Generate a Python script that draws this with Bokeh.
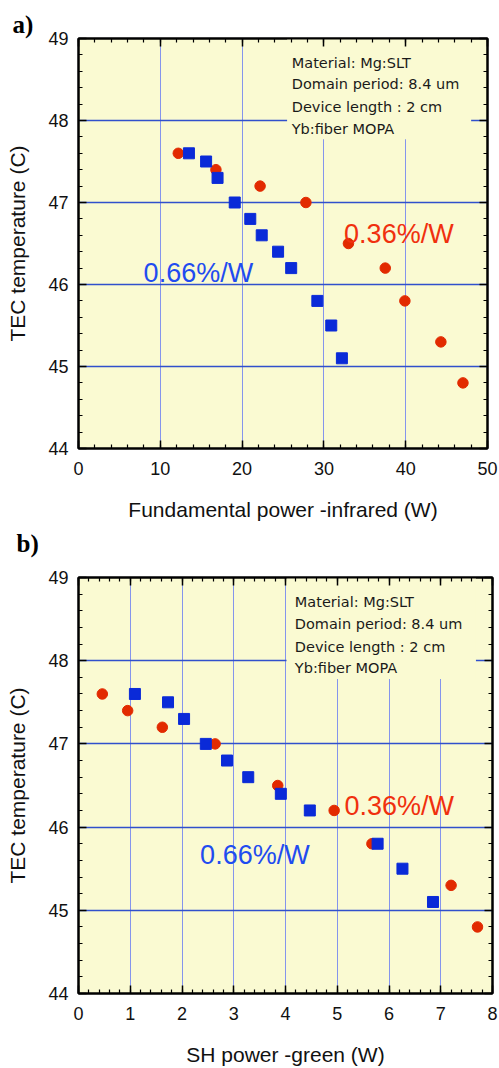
from bokeh.plotting import figure
from bokeh.models import (Range1d, LinearAxis, SingleIntervalTicker, Label,
                          CustomJSTickFormatter, Title)
from bokeh.layouts import column
from bokeh.embed import file_html
from bokeh.resources import INLINE

# ---- data ----
temp_red = [47.6, 47.4, 47.2, 47.0, 46.5, 46.2, 45.8, 45.3, 44.8]
temp_blue = [47.6, 47.5, 47.3, 47.0, 46.8, 46.6, 46.4, 46.2, 45.8, 45.5, 45.1]

fund_red = [12.2, 16.8, 22.2, 27.8, 33.0, 37.5, 39.9, 44.3, 47.0]
fund_blue = [13.5, 15.6, 17.0, 19.1, 21.0, 22.4, 24.4, 26.0, 29.2, 30.9, 32.2]

sh_red = [0.46, 0.95, 1.62, 2.64, 3.85, 4.94, 5.67, 7.20, 7.71]
sh_blue = [1.09, 1.73, 2.04, 2.46, 2.87, 3.28, 3.91, 4.47, 5.78, 6.26, 6.85]

info_lines = ["Material: Mg:SLT", "Domain period: 8.4 um",
              "Device length : 2 cm", "Yb:fiber MOPA"]

BG = "#fafad2"
BLUE_M = "#0a2ad8"
RED_M = "#e22a00"
BLUE_T = "#1f4cf0"
RED_T = "#f0300e"
FONT = "Liberation Sans"


def panel_title(txt, off, valign, stand):
    return Title(text=txt, align="left", offset=off,
                 vertical_align=valign, standoff=stand,
                 text_font="Liberation Serif", text_font_style="bold",
                 text_font_size="25px", text_color="black")


def make_panel(xr, xint, xlabel, fw, fh, ml, mr, mt, mb,
               xred, xblue, box, info_x, info_y, ann):
    p = figure(frame_width=fw, frame_height=fh,
               x_range=Range1d(*xr), y_range=Range1d(44, 49),
               output_backend="svg", toolbar_location=None,
               min_border_left=ml, min_border_right=mr,
               min_border_top=mt, min_border_bottom=mb,
               background_fill_color=BG, border_fill_color="white",
               outline_line_color="black", outline_line_width=2)
    xt = SingleIntervalTicker(interval=xint, num_minor_ticks=5)
    yt = SingleIntervalTicker(interval=1, num_minor_ticks=5)
    p.xaxis.ticker = xt
    p.yaxis.ticker = yt
    p.xgrid.ticker = xt
    p.ygrid.ticker = yt
    p.xgrid.grid_line_color = "#8494ec"
    p.xgrid.grid_line_width = 1
    p.ygrid.grid_line_color = "#3050cc"
    p.ygrid.grid_line_width = 1.5

    for ax in (p.xaxis[0], p.yaxis[0]):
        ax.major_tick_in = 8
        ax.major_tick_out = 0
        ax.minor_tick_in = 4
        ax.minor_tick_out = 0
        ax.major_tick_line_width = 1.5
        ax.minor_tick_line_width = 1.2
        ax.major_tick_line_color = "black"
        ax.minor_tick_line_color = "black"
        ax.axis_line_color = "black"
        ax.axis_line_width = 2
        ax.major_label_text_font = FONT
        ax.major_label_text_font_size = "18px"
        ax.major_label_text_color = "#111111"
        ax.axis_label_text_font = FONT
        ax.axis_label_text_font_size = "21px"
        ax.axis_label_text_font_style = "normal"
        ax.axis_label_text_color = "#111111"
    p.xaxis.major_label_standoff = 13
    p.xaxis.axis_label_standoff = 20
    p.yaxis.major_label_standoff = 10
    p.yaxis.axis_label_standoff = 16
    p.xaxis.axis_label = xlabel
    p.yaxis.axis_label = "TEC temperature (C)"

    for loc, tk in (("right", yt), ("above", xt)):
        ax = LinearAxis(ticker=tk,
                        formatter=CustomJSTickFormatter(code="return ''"))
        ax.major_tick_in = 8
        ax.major_tick_out = 0
        ax.minor_tick_in = 4
        ax.minor_tick_out = 0
        ax.major_tick_line_width = 1.5
        ax.minor_tick_line_width = 1.2
        ax.axis_line_color = "black"
        ax.axis_line_width = 2
        ax.major_label_standoff = 0
        ax.axis_label_standoff = 0
        p.add_layout(ax, loc)

    # box behind the info text hides grid lines
    p.quad(left=box[0], right=box[1], bottom=box[2], top=box[3],
           fill_color=BG, line_color=None)

    p.scatter(xred, temp_red, marker="circle", size=10.5,
              fill_color=RED_M, line_color=RED_M)
    p.scatter(xblue, temp_blue, marker="square", size=11,
              fill_color=BLUE_M, line_color=BLUE_M)

    for txt, yy in zip(info_lines, info_y):
        p.add_layout(Label(x=info_x, y=yy, text=txt, text_font="DejaVu Sans",
                           text_font_size="14.5px", text_color="#1a1a1a",
                           text_baseline="middle"))

    for txt, xx, yy, col in ann:
        p.add_layout(Label(x=xx, y=yy, text=txt, text_font=FONT,
                           text_font_size="27px", text_color=col,
                           text_baseline="alphabetic"))
    return p


p1 = make_panel((0, 50), 10, "Fundamental power -infrared (W)",
                409, 410, 78, 12, 38, 117,
                fund_red, fund_blue, (25.5, 48.0, 47.77, 49),
                26.07, [48.705, 48.44, 48.17, 47.90],
                [("0.66%/W", 7.96, 46.14, BLUE_T),
                 ("0.36%/W", 32.47, 46.62, RED_T)])
p1.add_layout(panel_title("a)", -66, "bottom", 2), "above")
# label of the second panel sits in the gap under the first one
p1.add_layout(panel_title("b)", -62, "top", 12), "below")

p2 = make_panel((0, 8), 1, "SH power -green (W)",
                414, 416, 76, 9, 12, 72,
                sh_red, sh_blue, (4.02, 7.68, 47.78, 49),
                4.18, [48.711, 48.44, 48.17, 47.916],
                [("0.36%/W", 5.14, 46.25, RED_T),
                 ("0.66%/W", 2.35, 45.66, BLUE_T)])

layout = column(p1, p2, spacing=0)
open("out.html", "w").write(file_html(layout, INLINE))
